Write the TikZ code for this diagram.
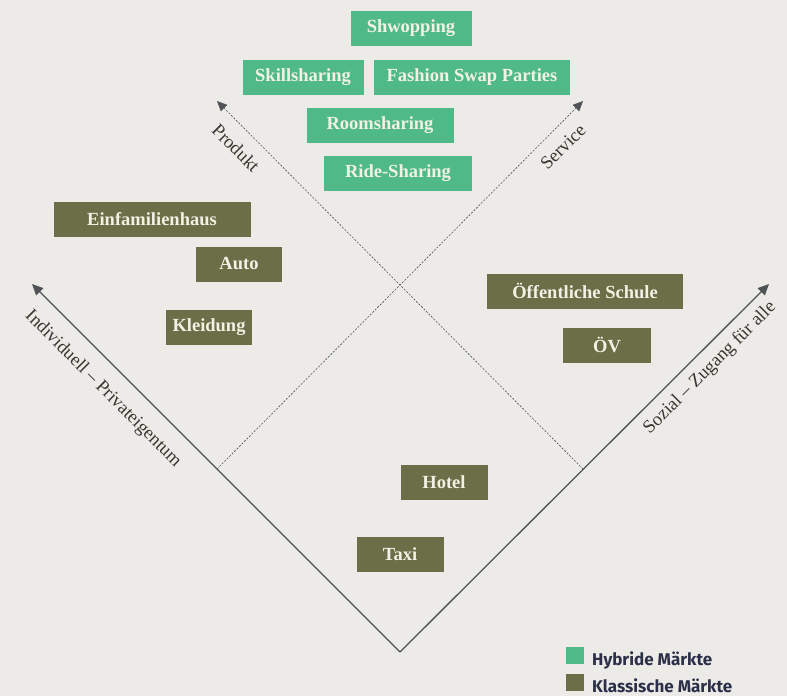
\documentclass[tikz,border=0pt]{standalone}
\usepackage{fontspec}
\setmainfont{Liberation Serif}
\newfontfamily\legendfont{Fira Sans}
\usetikzlibrary{arrows.meta}
\usepackage{xcolor}

\definecolor{paper}{HTML}{ECEBE8}
\definecolor{hybridgreen}{HTML}{4FBA88}
\definecolor{classicolive}{HTML}{6B6E47}
\definecolor{axisgray}{HTML}{505456}
\definecolor{labelbrown}{HTML}{3A3530}
\definecolor{boxtext}{HTML}{F3F0E4}
\definecolor{legendnavy}{HTML}{2B3048}

\begin{document}
\begin{tikzpicture}[x=1pt,y=-1pt]
    \tikzstyle{market} = [rectangle, inner sep=0pt, minimum height=35pt,
               text=boxtext, font=\fontsize{18.5}{21}\selectfont\bfseries]
    \tikzstyle{hybridbox} = [market, fill=hybridgreen]
    \tikzstyle{classicbox} = [market, fill=classicolive]
    \tikzstyle{axis} = [draw=axisgray, line width=1.3pt,
               -{Triangle[length=11pt,width=10pt]}]
    \tikzstyle{guide} = [draw=axisgray, line width=0.6pt,
               dash pattern=on 2pt off 1.5pt, -{Triangle[length=10pt,width=9pt]}]
    \tikzstyle{axislabel} = [text=labelbrown, font=\fontsize{18.5}{20}\selectfont]
    \tikzstyle{legendbox} = [rectangle, minimum width=18pt, minimum height=17pt,
               inner sep=0pt]
    \tikzstyle{legendtext} = [anchor=west, text=legendnavy, inner sep=0pt,
               font=\legendfont\fontsize{17}{18}\selectfont\bfseries]

    % Background
    \fill [paper] (0,0) rectangle (787,696);
    \useasboundingbox (0,0) rectangle (787,696);

    % Axes
    \coordinate (base) at (400,652);
    \coordinate (indiv) at (32,284);
    \coordinate (sozial) at (769,284);
    \coordinate (produkt) at (217,101);
    \coordinate (service) at (583,101);
    \coordinate (leftfoot) at (217,469);
    \coordinate (rightfoot) at (583,469);

    \draw [axis] (base) -- (indiv);
    \draw [axis] (base) -- (sozial);
    \draw [guide] (rightfoot) -- (produkt);
    \draw [guide] (leftfoot) -- (service);

    \node [axislabel, rotate=-45] (lblindiv) at (103,389) {Individuell – Privateigentum};
    \node [axislabel, rotate=45] (lblsozial) at (710,368) {Sozial – Zugang für alle};
    \node [axislabel, rotate=-45] (lblprodukt) at (236,148) {Produkt};
    \node [axislabel, rotate=45] (lblservice) at (563,147) {Service};

    % Hybrid markets
    \node [hybridbox, minimum width=121pt] (shwopping) at (411,28) {Shwopping};
    \node [hybridbox, minimum width=121pt] (skill) at (303,77) {Skillsharing};
    \node [hybridbox, minimum width=196pt] (fashion) at (472,77) {Fashion Swap Parties};
    \node [hybridbox, minimum width=147pt] (room) at (380,125) {Roomsharing};
    \node [hybridbox, minimum width=148pt] (ride) at (398,173) {Ride-Sharing};

    % Classic markets
    \node [classicbox, minimum width=197pt] (haus) at (152,219) {Einfamilienhaus};
    \node [classicbox, minimum width=86pt] (auto) at (239,264) {Auto};
    \node [classicbox, minimum width=86pt] (kleidung) at (209,327) {Kleidung};
    \node [classicbox, minimum width=196pt] (schule) at (585,291) {Öffentliche Schule};
    \node [classicbox, minimum width=88pt] (oev) at (607,345) {ÖV};
    \node [classicbox, minimum width=87pt] (hotel) at (444,482) {Hotel};
    \node [classicbox, minimum width=87pt] (taxi) at (400,554) {Taxi};

    % Legend
    \node [legendbox, fill=hybridgreen] (keyhybrid) at (575,655.5) {};
    \node [legendbox, fill=classicolive] (keyclassic) at (575,682) {};
    \node [legendtext] (txthybrid) at (592,660) {Hybride Märkte};
    \node [legendtext] (txtclassic) at (592,686) {Klassische Märkte};

\end{tikzpicture}
\end{document}
